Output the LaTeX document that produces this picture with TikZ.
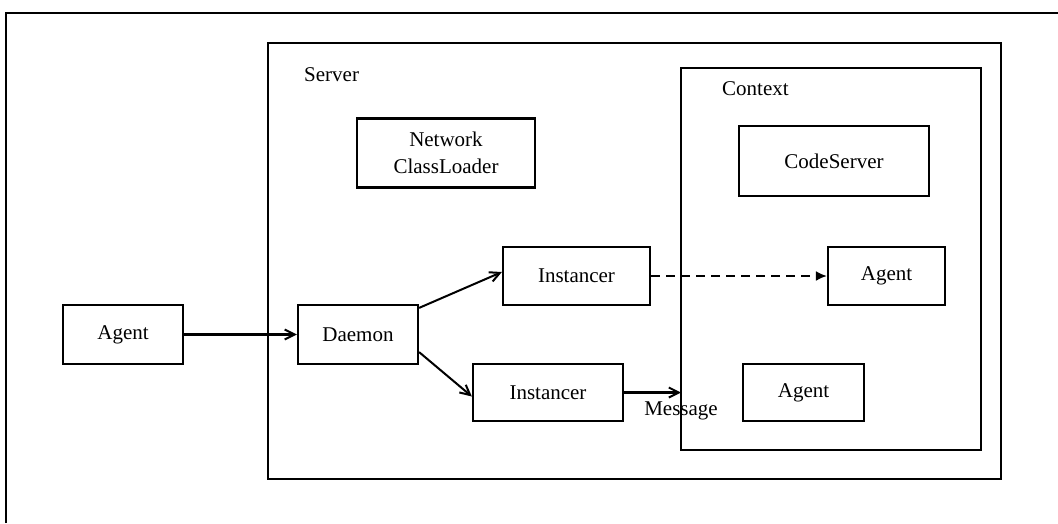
\documentclass[tikz,border=0pt]{standalone}
\usepackage{fontspec}
\setmainfont{Liberation Serif}
\usetikzlibrary{arrows.meta}
\begin{document}
\begin{tikzpicture}[x=1pt,y=-1pt,
  every node/.style={font=\fontsize{21}{27}\selectfont, inner sep=0pt},
  box/.style={draw, line width=2.2pt, align=center},
  frame/.style={draw, line width=2.2pt},
  arr/.style={line width=2pt, -{Straight Barb[length=10pt,width=10pt,line width=2pt]}},
  darr/.style={line width=2pt, dash pattern=on 9pt off 6pt, -{Latex[length=11pt,width=10pt]}}]
\useasboundingbox (0,0) rectangle (1058,523);
% page frame, open at the right and bottom
\draw[line width=2.8pt] (6,523) -- (6,13) -- (1058,13);
% containers
\draw[frame] (268,43) rectangle (1001,479);
\draw[frame] (681,68) rectangle (981,450);
\node[anchor=west] (serverlbl) at (304,75) {Server};
\node[anchor=west] (contextlbl) at (722,89) {Context};
% components
\node[box, minimum width=178pt, minimum height=69pt] (ncl) at (446,153) {Network\\ClassLoader};
\node[box, minimum width=190pt, minimum height=70pt] (cs) at (834,161) {CodeServer};
\node[box, minimum width=120pt, minimum height=59pt] (agentA) at (123,334.5) {Agent};
\node[box, minimum width=120pt, minimum height=59pt] (daemon) at (358,334.5) {Daemon};
\node[box, minimum width=147pt, minimum height=58pt] (inst1) at (576.5,276) {Instancer};
\node[box, minimum width=117pt, minimum height=58pt] (agentB) at (886.5,276) {Agent};
\node[box, minimum width=150pt, minimum height=57pt] (inst2) at (548,392.5) {Instancer};
\node[box, minimum width=121pt, minimum height=57pt] (agentC) at (803.5,392.5) {Agent};
\coordinate (ctxin) at (681,392.5);
\node (msg) at (681,411) {Message};
% connectors
\draw[arr, line width=2.8pt] (agentA.east) -- (daemon.west);
\draw[arr] ([yshift=-4pt]daemon.north east) -- ([yshift=4pt]inst1.west);
\draw[arr] ([yshift=13pt]daemon.south east) -- ([yshift=-4pt]inst2.west);
\draw[darr] (inst1.east) -- (agentB.west);
\draw[arr, line width=2.6pt] (inst2.east) -- (ctxin);
\end{tikzpicture}
\end{document}
